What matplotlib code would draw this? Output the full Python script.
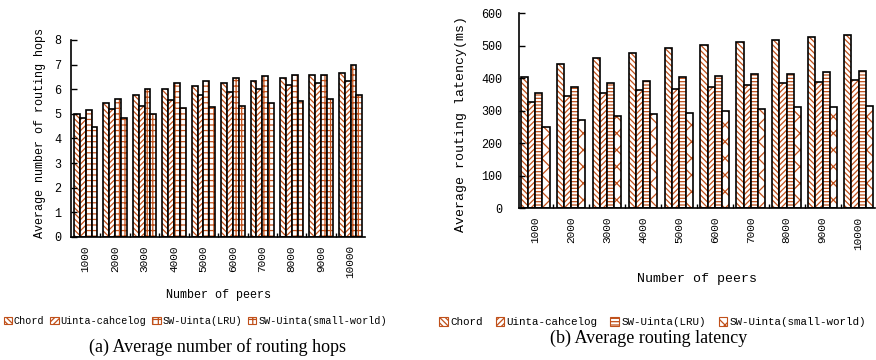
import numpy as np
import matplotlib
matplotlib.use("Agg")
import matplotlib.pyplot as plt
from matplotlib.patches import Patch

peers = ["1000", "2000", "3000", "4000", "5000", "6000", "7000", "8000", "9000", "10000"]
series = ["Chord", "Uinta-cahcelog", "SW-Uinta(LRU)", "SW-Uinta(small-world)"]

# (a) average number of routing hops
hops_chord = [4.99, 5.45, 5.78, 6.01, 6.12, 6.24, 6.35, 6.47, 6.58, 6.64]
hops_uinta = [4.81, 5.18, 5.32, 5.55, 5.78, 5.90, 6.01, 6.19, 6.24, 6.35]
hops_lru = [5.16, 5.61, 6.01, 6.24, 6.35, 6.47, 6.53, 6.58, 6.58, 6.99]
hops_sw = [4.47, 4.81, 4.99, 5.22, 5.27, 5.32, 5.45, 5.50, 5.61, 5.75]

# (b) average routing latency (ms)
lat_chord = [403, 444, 463, 479, 492, 503, 513, 518, 527, 532]
lat_uinta = [328, 344, 354, 364, 368, 373, 378, 384, 388, 394]
lat_lru = [353, 372, 384, 393, 403, 408, 413, 413, 418, 423]
lat_sw = [250, 270, 285, 289, 294, 299, 305, 310, 310, 315]

HATCH_C = "#c0501a"
MONO = "Liberation Mono"
SERIF = "Liberation Serif"
plt.rcParams["hatch.linewidth"] = 0.9

hatch_a = ["\\\\\\\\\\\\", "//////", "+++", "+++"]
hatch_b = ["\\\\\\\\\\\\", "//////", "-----", "xx"]


def draw_panel(ax, data, hatches, ylim, yticks, xlim, ypad):
    x = np.arange(len(peers))
    w = 0.2
    for k, (vals, h) in enumerate(zip(data, hatches)):
        pos = x + (k - 1.5) * w
        # hatch layer in brown, then a black outline on top
        ax.bar(pos, vals, w, color="white", edgecolor=HATCH_C, hatch=h, linewidth=0)
        ax.bar(pos, vals, w, fill=False, edgecolor="black", linewidth=1.2)
    ax.set_xlim(*xlim)
    ax.set_ylim(*ylim)
    ax.set_yticks(yticks)
    ax.set_xticks(x)
    ax.set_xticklabels(peers, rotation=90, family=MONO, fontsize=8)
    ax.set_xticks(x[1:] - 0.5, minor=True)
    ax.tick_params(axis="x", which="major", length=0, pad=6)
    ax.tick_params(axis="x", which="minor", direction="in", length=3, width=1)
    ax.tick_params(axis="y", direction="in", length=4, width=1, labelsize=8.5, pad=ypad)
    for lab in ax.get_yticklabels():
        lab.set_family(MONO)
    for s in ["top", "right"]:
        ax.spines[s].set_visible(False)
    for s in ["left", "bottom"]:
        ax.spines[s].set_linewidth(1.2)


fig = plt.figure(figsize=(8.76, 3.6), dpi=100)

ax1 = fig.add_axes([0.081, 0.342, 0.336, 0.547])
draw_panel(ax1, [hops_chord, hops_uinta, hops_lru, hops_sw],
           hatch_a, (0, 8), range(0, 9), (-0.5, 9.5), 7)
ax1.set_xlabel("Number of peers", family=MONO, fontsize=8.5, labelpad=8)
ax1.set_ylabel("Average number of routing hops", family=MONO, fontsize=8.5)
ax1.yaxis.set_label_coords(-0.085, 0.53)

ax2 = fig.add_axes([0.5925, 0.422, 0.406, 0.541])
draw_panel(ax2, [lat_chord, lat_uinta, lat_lru, lat_sw],
           hatch_b, (0, 600), range(0, 601, 100), (-0.45, 9.45), 12)
ax2.set_xlabel("Number of peers", family=MONO, fontsize=9.5, labelpad=17)
ax2.set_ylabel("Average routing latency(ms)", family=MONO, fontsize=9.5)
ax2.yaxis.set_label_coords(-0.145, 0.43)

for xc, yc, hatches, fs, cs in [(0.223, 0.108, hatch_a, 7.3, 0.6),
                                (0.745, 0.105, hatch_b, 7.8, 1.2)]:
    handles = [Patch(facecolor="white", edgecolor=HATCH_C, hatch=h, linewidth=0.8)
               for h in hatches]
    fig.legend(handles, series, loc="center", bbox_to_anchor=(xc, yc), ncol=4,
               frameon=False, handlelength=0.8, handleheight=0.8, handletextpad=0.2,
               columnspacing=cs, prop={"family": MONO, "size": fs})

fig.text(0.248, 0.036, "(a) Average number of routing hops", family=SERIF,
         fontsize=13, ha="center", va="center")
fig.text(0.741, 0.061, "(b) Average routing latency", family=SERIF,
         fontsize=13, ha="center", va="center")

fig.savefig("out.png", dpi=100)
